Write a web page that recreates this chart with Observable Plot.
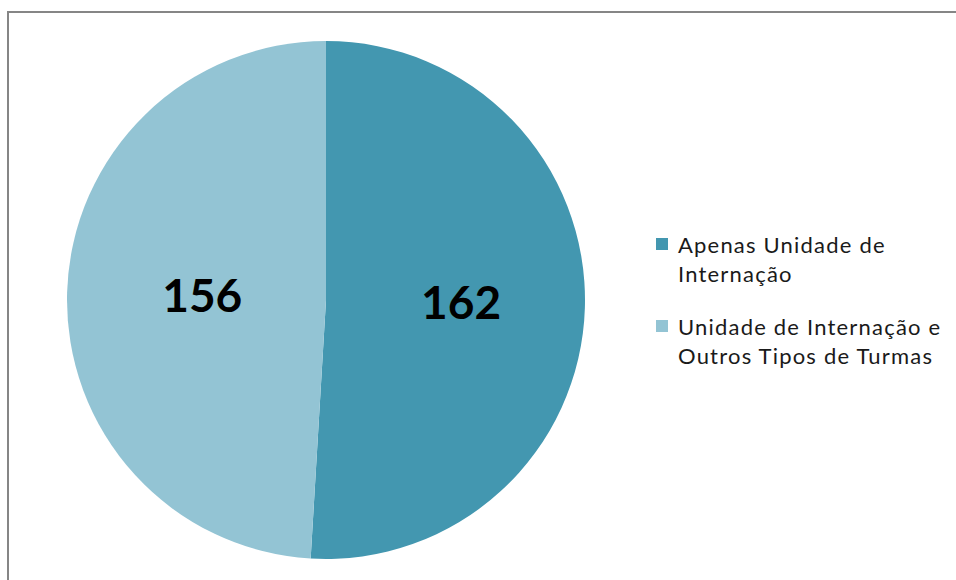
<!DOCTYPE html>
<html>
<head>
<meta charset="utf-8">
<script src="https://cdn.jsdelivr.net/npm/d3@7"></script>
<script src="https://cdn.jsdelivr.net/npm/@observablehq/plot@0.6"></script>
<style>
  body { margin: 0; background: #fff; }
  #wrap { position: relative; width: 956px; height: 580px; overflow: hidden; background: #fff; }
  #frame { position: absolute; left: 7px; top: 11px; width: 1000px; height: 1000px; border: 2px solid #868686; box-sizing: border-box; }
  #chart { position: absolute; left: 0; top: 0; }
  #legend { position: absolute; left: 656px; top: 230px; font-family: Lato, "Open Sans", sans-serif; font-size: 22px; letter-spacing: 1.2px; color: #1a1a1a; }
  .item { position: relative; padding-left: 22px; line-height: 29px; width: 300px; margin-bottom: 24px; }
  .sw { position: absolute; left: 0; top: 8px; width: 12px; height: 12px; }
</style>
</head>
<body>
<div id="wrap">
  <div id="frame"></div>
  <div id="chart"></div>
  <div id="legend"></div>
</div>
<script>
const categories = ["Apenas Unidade de Internação", "Unidade de Internação e Outros Tipos de Turmas"];
const legendLines = [["Apenas Unidade de", "Internação"], ["Unidade de Internação e", "Outros Tipos de Turmas"]];
const values = [162, 156];
const colors = ["#4397B0", "#93C4D4"];
const labelRadii = [0.52, 0.48];

const data = categories.map((c, i) => ({category: c, value: values[i]}));
const arcs = d3.pie().sort(null).value(d => d.value)(data);
const labels = arcs.map((a, i) => {
  const mid = (a.startAngle + a.endAngle) / 2;
  return {x: labelRadii[i] * Math.sin(mid), y: labelRadii[i] * Math.cos(mid), text: String(a.data.value)};
});

function pieMark(index, scales) {
  const cx = scales.x(0), cy = scales.y(0);
  const r = scales.x(1) - scales.x(0);
  const color = scales.color || d3.scaleOrdinal(categories, colors);
  const g = d3.create("svg:g").attr("transform", `translate(${cx},${cy})`);
  const arc = d3.arc().innerRadius(0).outerRadius(r);
  g.selectAll("path").data(arcs).join("path")
    .attr("d", arc)
    .attr("fill", d => color(d.data.category))
    .attr("stroke", "none");
  return g.node();
}

const chart = Plot.plot({
  width: 956,
  height: 580,
  margin: 0,
  style: {background: "transparent", overflow: "visible"},
  x: {domain: [-1, 1], range: [67, 585], axis: null},
  y: {domain: [-1, 1], range: [559, 41], axis: null},
  color: {type: "ordinal", domain: categories, range: colors},
  marks: [
    pieMark,
    Plot.text(labels, {x: "x", y: "y", text: "text", fill: "#000", fontSize: 46, fontWeight: "bold", fontFamily: "Lato"})
  ]
});
document.getElementById("chart").appendChild(chart);

const legend = d3.select("#legend");
categories.forEach((c, i) => {
  const item = legend.append("div").attr("class", "item");
  item.append("div").attr("class", "sw").style("background", colors[i]);
  legendLines[i].forEach(l => item.append("div").text(l));
});
</script>
</body>
</html>
